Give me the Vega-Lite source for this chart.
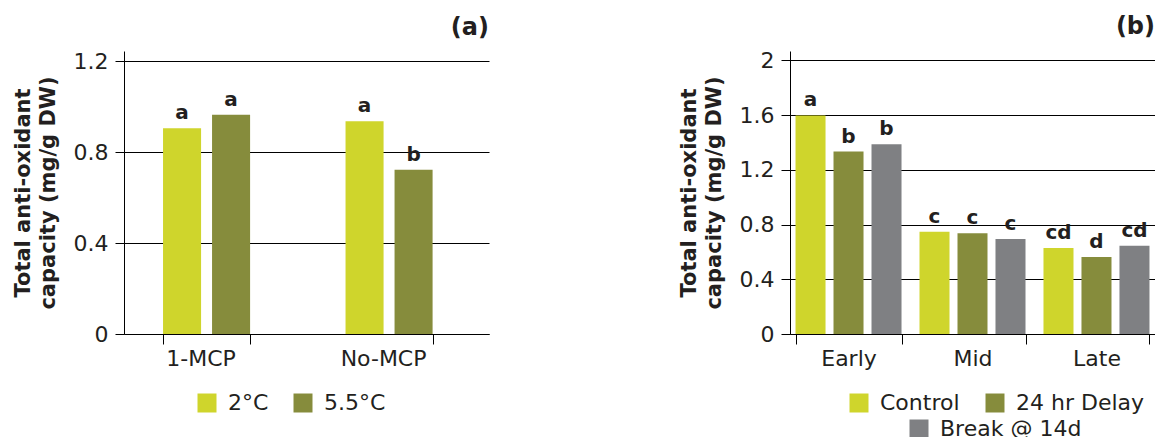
{
  "$schema": "https://vega.github.io/schema/vega-lite/v6.json",
  "padding": {"left": 12, "top": 15, "right": 0, "bottom": 0},
  "spacing": 189,
  "config": {
    "font": "DejaVu Sans",
    "view": {"stroke": null},
    "axis": {
      "labelFont": "DejaVu Sans",
      "labelFontSize": 22,
      "labelColor": "#231f20",
      "domainColor": "#000000",
      "tickColor": "#000000",
      "titleFont": "DejaVu Sans",
      "titleFontWeight": "bold",
      "titleColor": "#231f20"
    },
    "legend": {
      "labelFont": "DejaVu Sans",
      "labelFontSize": 22,
      "labelColor": "#231f20",
      "symbolType": "square",
      "symbolSize": 361,
      "symbolStrokeWidth": 0,
      "labelOffset": 10,
      "columnPadding": 23,
      "rowPadding": 8,
      "orient": "none",
      "direction": "horizontal",
      "title": null
    },
    "title": {"font": "DejaVu Sans", "fontSize": 24, "fontWeight": "bold", "color": "#231f20", "anchor": "end", "frame": "group", "offset": 10}
  },
  "datasets": {
    "a": [
      {"treat": "1-MCP", "temp": "2°C", "value": 0.904, "sig": "a"},
      {"treat": "1-MCP", "temp": "5.5°C", "value": 0.964, "sig": "a"},
      {"treat": "No-MCP", "temp": "2°C", "value": 0.935, "sig": "a"},
      {"treat": "No-MCP", "temp": "5.5°C", "value": 0.722, "sig": "b"}
    ],
    "b": [
      {"stage": "Early", "trt": "Control", "value": 1.597, "sig": "a"},
      {"stage": "Early", "trt": "24 hr Delay", "value": 1.333, "sig": "b"},
      {"stage": "Early", "trt": "Break @ 14d", "value": 1.386, "sig": "b"},
      {"stage": "Mid", "trt": "Control", "value": 0.748, "sig": "c"},
      {"stage": "Mid", "trt": "24 hr Delay", "value": 0.736, "sig": "c"},
      {"stage": "Mid", "trt": "Break @ 14d", "value": 0.694, "sig": "c"},
      {"stage": "Late", "trt": "Control", "value": 0.628, "sig": "cd"},
      {"stage": "Late", "trt": "24 hr Delay", "value": 0.562, "sig": "d"},
      {"stage": "Late", "trt": "Break @ 14d", "value": 0.645, "sig": "cd"}
    ]
  },
  "hconcat": [
    {
      "width": 365,
      "height": 283,
      "title": "(a)",
      "data": {"name": "a"},
      "encoding": {
        "x": {"field": "treat", "type": "nominal", "sort": ["1-MCP", "No-MCP"],
          "scale": {"paddingInner": 0.523, "paddingOuter": 0.2615, "align": 0.409},
          "axis": {"title": null, "labelAngle": 0, "tickBand": "extent", "tickOffset": 9, "labelOffset": -6, "tickSize": 10, "labelPadding": 4, "grid": false}},
        "xOffset": {"field": "temp", "type": "nominal", "scale": {"domain": ["2°C", "5.5°C"], "paddingInner": 0.224, "paddingOuter": 0}},
        "y": {"field": "value", "type": "quantitative",
          "scale": {"domain": [0, 1.244], "nice": false},
          "axis": {"title": ["Total anti-oxidant", "capacity (mg/g DW)"], "titleFontSize": 21, "titleLineHeight": 25, "titlePadding": 15,
            "values": [0, 0.4, 0.8, 1.2], "format": "~g", "tickSize": 9, "labelPadding": 7, "grid": true, "gridColor": "#000000", "gridOpacity": 1}}
      },
      "layer": [
        {"mark": {"type": "bar"},
          "encoding": {"color": {"field": "temp", "type": "nominal",
            "scale": {"domain": ["2°C", "5.5°C"], "range": ["#cfd52c", "#868c3c"]},
            "legend": {"legendX": 72, "legendY": 341}}}},
        {"mark": {"type": "text", "baseline": "bottom", "dy": -5, "fontSize": 20, "fontWeight": "bold", "color": "#231f20"},
          "encoding": {"text": {"field": "sig"}}}
      ]
    },
    {
      "width": 365,
      "height": 283,
      "title": "(b)",
      "data": {"name": "b"},
      "encoding": {
        "x": {"field": "stage", "type": "nominal", "sort": ["Early", "Mid", "Late"],
          "scale": {"paddingInner": 0.145, "paddingOuter": 0.0445},
          "axis": {"title": null, "labelAngle": 0, "tickBand": "extent", "tickSize": 10, "labelPadding": 4, "grid": false}},
        "xOffset": {"field": "trt", "type": "nominal", "scale": {"domain": ["Control", "24 hr Delay", "Break @ 14d"], "paddingInner": 0.21, "paddingOuter": 0}},
        "y": {"field": "value", "type": "quantitative",
          "scale": {"domain": [0, 2.068], "nice": false},
          "axis": {"title": ["Total anti-oxidant", "capacity (mg/g DW)"], "titleFontSize": 21, "titleLineHeight": 25, "titlePadding": 15,
            "values": [0, 0.4, 0.8, 1.2, 1.6, 2], "format": "~g", "tickSize": 9, "labelPadding": 7, "grid": true, "gridColor": "#000000", "gridOpacity": 1}}
      },
      "layer": [
        {"transform": [{"filter": "datum.trt !== 'Break @ 14d'"}],
          "mark": {"type": "bar"},
          "encoding": {"color": {"field": "trt", "type": "nominal",
            "scale": {"domain": ["Control", "24 hr Delay"], "range": ["#cfd52c", "#868c3c"]},
            "legend": {"legendX": 58, "legendY": 341, "columnPadding": 24}}}},
        {"transform": [{"filter": "datum.trt === 'Break @ 14d'"}],
          "mark": {"type": "bar"},
          "encoding": {"fill": {"field": "trt", "type": "nominal",
            "scale": {"domain": ["Break @ 14d"], "range": ["#7f8083"]},
            "legend": {"legendX": 118, "legendY": 367}}}},
        {"mark": {"type": "text", "baseline": "bottom", "dy": -5, "fontSize": 20, "fontWeight": "bold", "color": "#231f20"},
          "encoding": {"text": {"field": "sig"}}}
      ]
    }
  ],
  "resolve": {"scale": {"color": "independent", "fill": "independent", "xOffset": "independent", "x": "independent", "y": "independent"}}
}
